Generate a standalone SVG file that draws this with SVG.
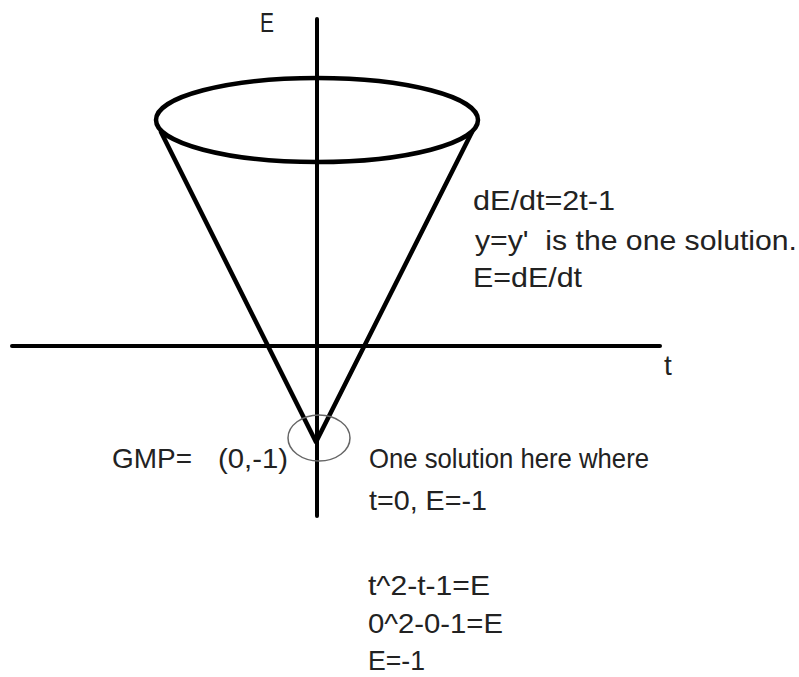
<svg xmlns="http://www.w3.org/2000/svg" width="799" height="677" viewBox="0 0 799 677">
<style>
.ax{stroke:#000;stroke-width:4;fill:none;stroke-linecap:round}
.cone{stroke:#000;stroke-width:4.5;fill:none;stroke-linejoin:round;stroke-linecap:round}
.mark{stroke:#666;stroke-width:1.5;fill:none}
text{font-family:"Liberation Sans",Arial,sans-serif;font-size:28px;fill:#222}
</style>
<rect width="799" height="677" fill="#fff"/>
<g id="axes">
<line class="ax" x1="317" y1="19" x2="317" y2="516"/>
<line class="ax" x1="12" y1="346" x2="660" y2="346"/>
<text x="260" y="32" textLength="14" lengthAdjust="spacingAndGlyphs">E</text>
<text x="664" y="375">t</text>
</g>
<g id="cone">
<ellipse class="cone" cx="317" cy="120" rx="161" ry="42"/>
<polyline class="cone" points="161,132 316,442 472,132"/>
</g>
<g id="gmp-mark">
<ellipse class="mark" cx="319" cy="438" rx="31" ry="23"/>
</g>
<g id="labels">
<text x="473" y="210" textLength="142" lengthAdjust="spacingAndGlyphs">dE/dt=2t-1</text>
<text x="475" y="250" textLength="322" lengthAdjust="spacingAndGlyphs" xml:space="preserve">y=y'  is the one solution.</text>
<text x="473" y="287" textLength="109" lengthAdjust="spacingAndGlyphs">E=dE/dt</text>
<text x="112" y="468" textLength="80" lengthAdjust="spacingAndGlyphs">GMP=</text>
<text x="218" y="468" textLength="70" lengthAdjust="spacingAndGlyphs">(0,-1)</text>
<text x="369" y="468" textLength="280" lengthAdjust="spacingAndGlyphs">One solution here where</text>
<text x="369" y="510" textLength="118" lengthAdjust="spacingAndGlyphs">t=0, E=-1</text>
<text x="368" y="595" textLength="122" lengthAdjust="spacingAndGlyphs">t^2-t-1=E</text>
<text x="368" y="633" textLength="135" lengthAdjust="spacingAndGlyphs">0^2-0-1=E</text>
<text x="368" y="670" textLength="57" lengthAdjust="spacingAndGlyphs">E=-1</text>
</g>
</svg>
